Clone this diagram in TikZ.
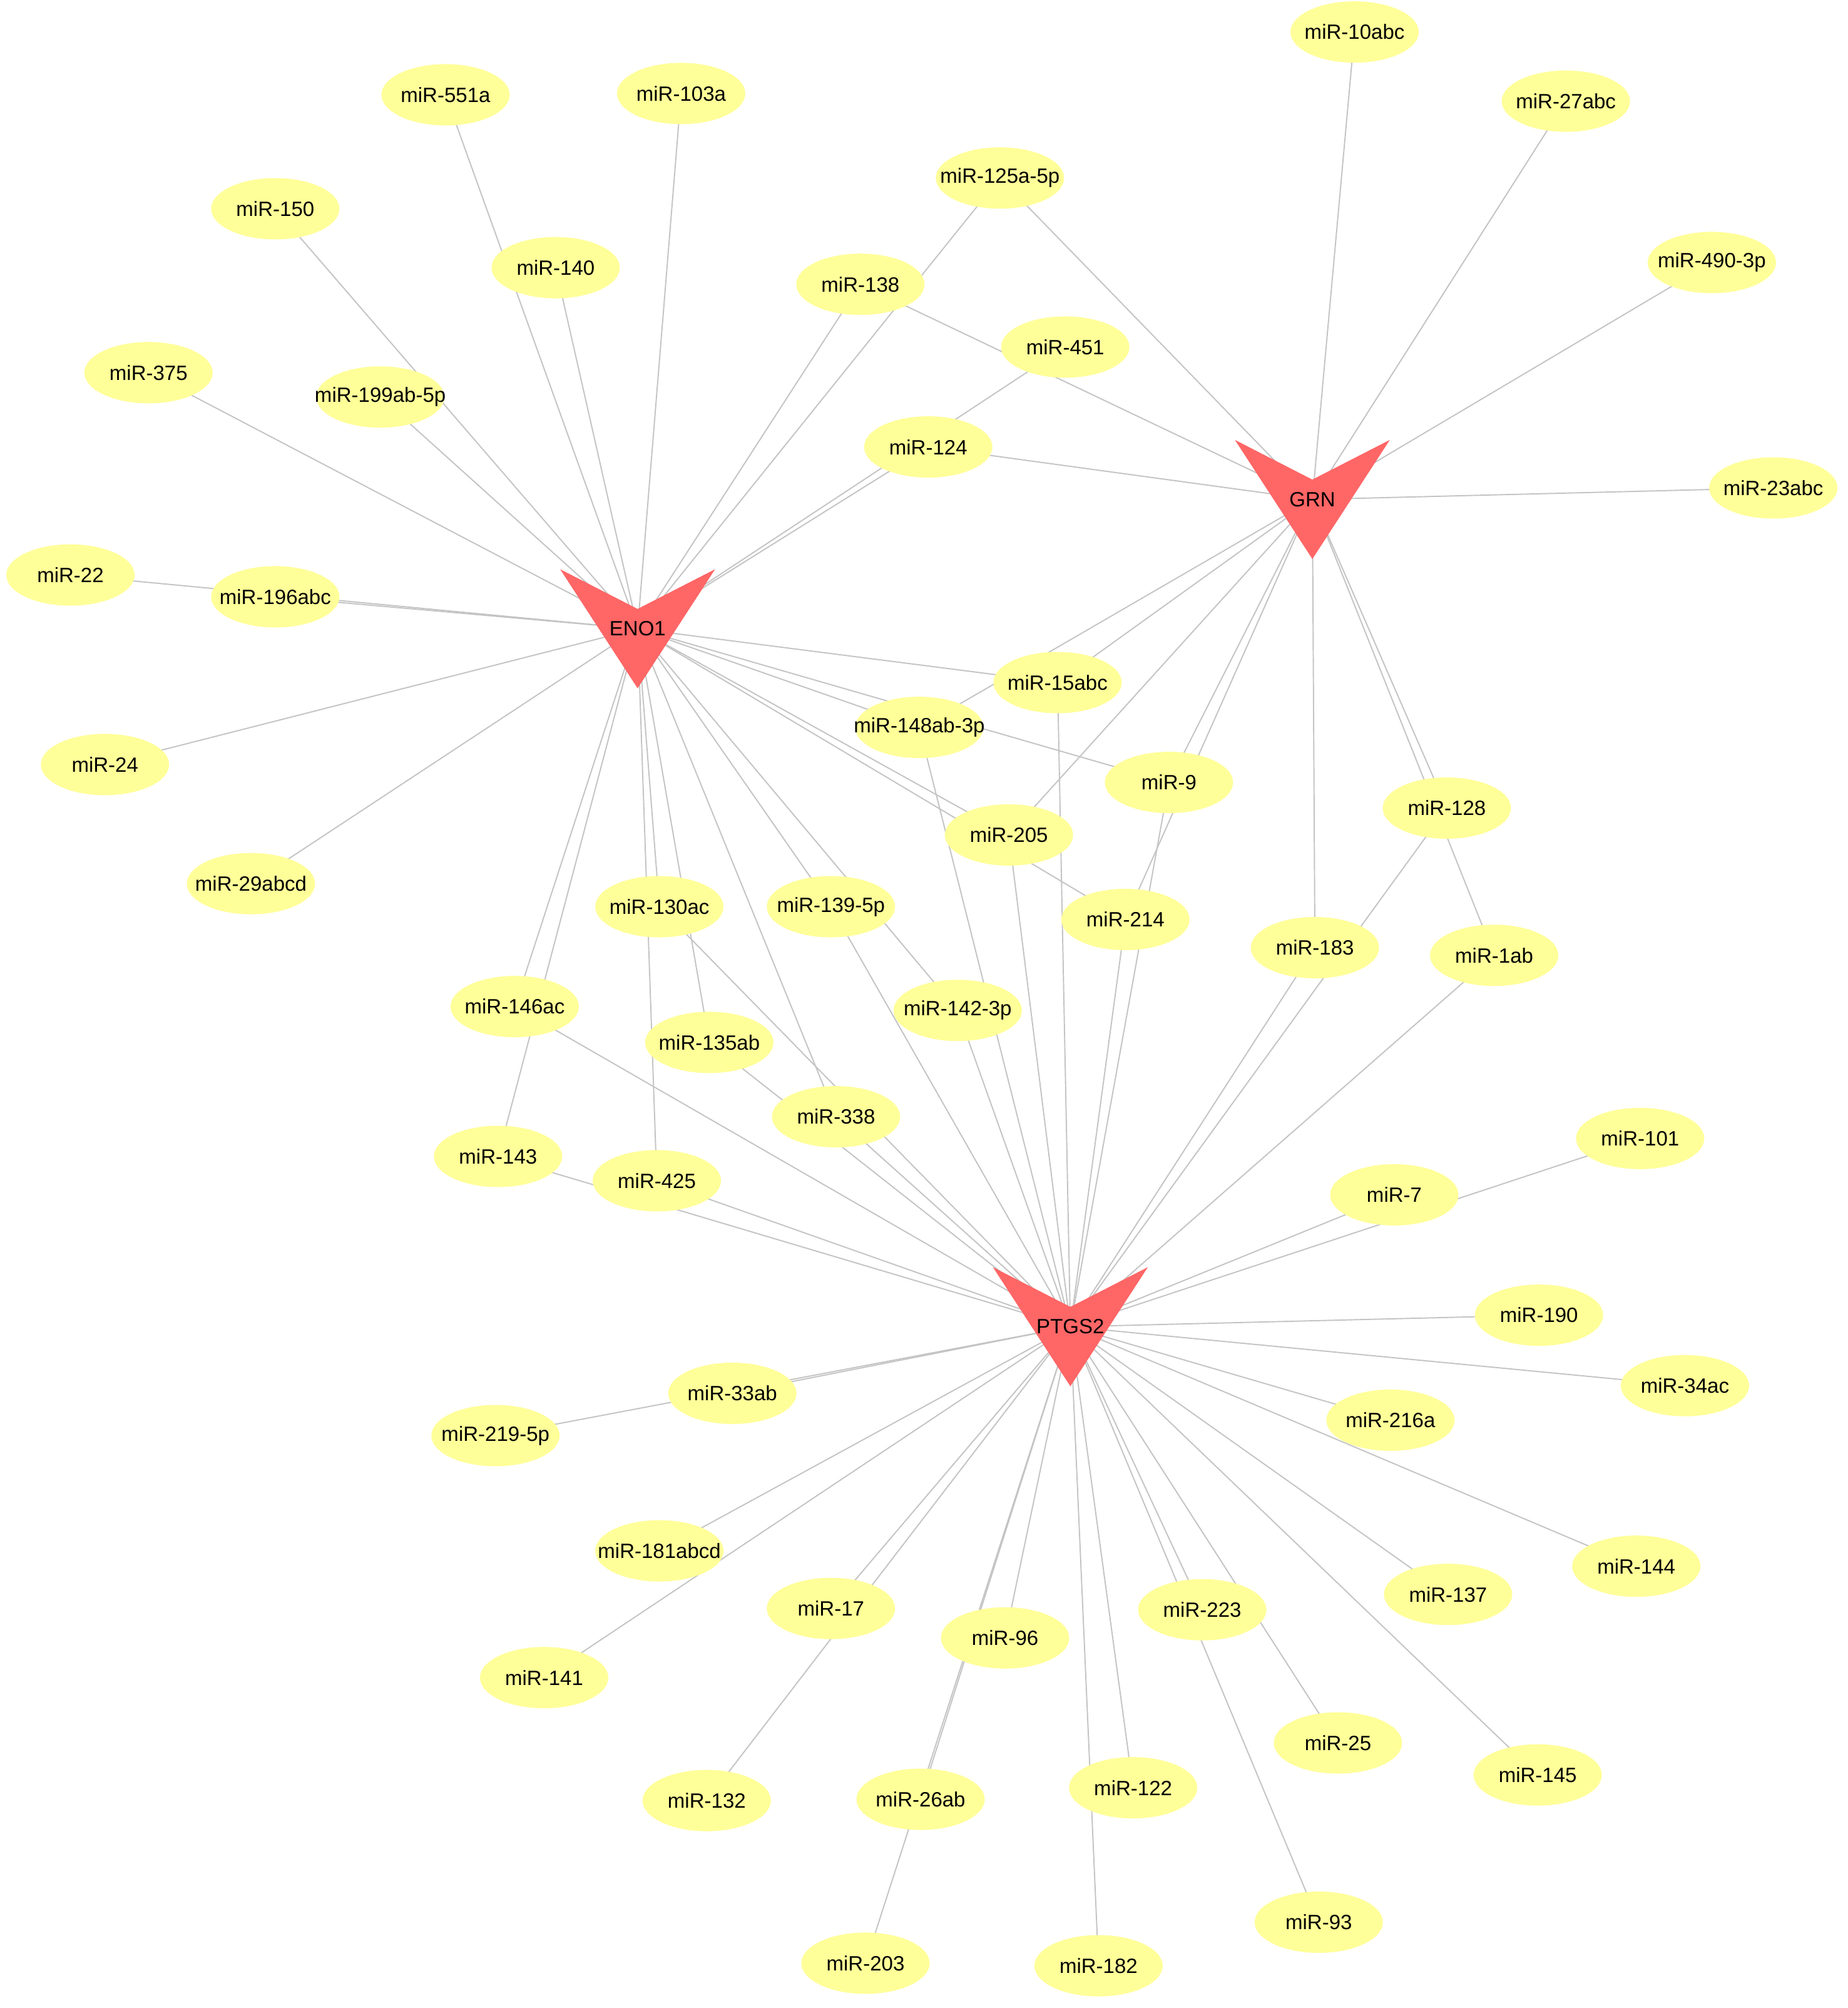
\documentclass[tikz,border=0pt]{standalone}
\usepackage{fontspec}
\setmainfont{Liberation Sans}
\usetikzlibrary{shapes.geometric}
\pgfdeclarelayer{background}
\pgfdeclarelayer{bottom}
\pgfsetlayers{bottom,background,main}
\definecolor{mirfill}{HTML}{FFFF99}
\definecolor{hubfill}{HTML}{FF6666}
\definecolor{edgecol}{HTML}{C4C4C4}
\newcommand\hubshape[1]{\fill[hubfill] (#1.center) ++(-60.5,-46.5) -- ++(60.5,31) -- ++(60.5,-31) -- ++(-60.5,93) -- cycle;}
\newcommand\lbl[1]{\makebox[0pt]{#1}}
\begin{document}
\begin{tikzpicture}[x=0.020465cm,y=-0.020465cm,
  mir/.style={ellipse,fill=mirfill,minimum width=2.05cm,minimum height=0.98cm,inner sep=0pt,font=\fontsize{9.4pt}{11pt}\selectfont},
  hub/.style={inner sep=0pt,font=\fontsize{9.4pt}{11pt}\selectfont},
  edge/.style={draw=edgecol,line width=0.55pt}]
\begin{pgfonlayer}{bottom}
\fill[white] (0,0) rectangle (1443,1568);
\end{pgfonlayer}
\useasboundingbox (0,0) rectangle (1443,1568);
% hubs
\node[hub] (ENO1) at (498,491) {ENO1};
\node[hub] (GRN) at (1025,390) {GRN};
\node[hub] (PTGS2) at (836,1036) {PTGS2};
% miRNAs
\node[mir] (n10abc) at (1058,25) {\lbl{miR-10abc}};
\node[mir] (n27abc) at (1223,79) {\lbl{miR-27abc}};
\node[mir] (n490) at (1337,205) {\lbl{miR-490-3p}};
\node[mir] (n23abc) at (1385,381) {\lbl{miR-23abc}};
\node[mir] (n551a) at (348,74) {\lbl{miR-551a}};
\node[mir] (n103a) at (532,73) {\lbl{miR-103a}};
\node[mir] (n125a) at (781,139) {\lbl{miR-125a-5p}};
\node[mir] (n150) at (215,163) {\lbl{miR-150}};
\node[mir] (n140) at (434,209) {\lbl{miR-140}};
\node[mir] (n138) at (672,222) {\lbl{miR-138}};
\node[mir] (n451) at (832,271) {\lbl{miR-451}};
\node[mir] (n375) at (116,291) {\lbl{miR-375}};
\node[mir] (n199) at (297,310) {\lbl{miR-199ab-5p}};
\node[mir] (n124) at (725,349) {\lbl{miR-124}};
\node[mir] (n22) at (55,449) {\lbl{miR-22}};
\node[mir] (n196) at (215,466) {\lbl{miR-196abc}};
\node[mir] (n15) at (826,533) {\lbl{miR-15abc}};
\node[mir] (n148) at (718,568) {\lbl{miR-148ab-3p}};
\node[mir] (n9) at (913,611) {\lbl{miR-9}};
\node[mir] (n24) at (82,597) {\lbl{miR-24}};
\node[mir] (n128) at (1130,631) {\lbl{miR-128}};
\node[mir] (n205) at (788,652) {\lbl{miR-205}};
\node[mir] (n29) at (196,690) {\lbl{miR-29abcd}};
\node[mir] (n130) at (515,708) {\lbl{miR-130ac}};
\node[mir] (n139) at (649,708) {\lbl{miR-139-5p}};
\node[mir] (n214) at (879,718) {\lbl{miR-214}};
\node[mir] (n183) at (1027,740) {\lbl{miR-183}};
\node[mir] (n1ab) at (1167,746) {\lbl{miR-1ab}};
\node[mir] (n146) at (402,786) {\lbl{miR-146ac}};
\node[mir] (n142) at (748,789) {\lbl{miR-142-3p}};
\node[mir] (n135) at (554,814) {\lbl{miR-135ab}};
\node[mir] (n338) at (653,872) {\lbl{miR-338}};
\node[mir] (n143) at (389,903) {\lbl{miR-143}};
\node[mir] (n425) at (513,922) {\lbl{miR-425}};
\node[mir] (n101) at (1281,889) {\lbl{miR-101}};
\node[mir] (n7) at (1089,933) {\lbl{miR-7}};
\node[mir] (n190) at (1202,1027) {\lbl{miR-190}};
\node[mir] (n34) at (1316,1082) {\lbl{miR-34ac}};
\node[mir] (n33) at (572,1088) {\lbl{miR-33ab}};
\node[mir] (n216) at (1086,1109) {\lbl{miR-216a}};
\node[mir] (n219) at (387,1121) {\lbl{miR-219-5p}};
\node[mir] (n181) at (515,1211) {\lbl{miR-181abcd}};
\node[mir] (n144) at (1278,1223) {\lbl{miR-144}};
\node[mir] (n137) at (1131,1245) {\lbl{miR-137}};
\node[mir] (n17) at (649,1256) {\lbl{miR-17}};
\node[mir] (n223) at (939,1257) {\lbl{miR-223}};
\node[mir] (n96) at (785,1279) {\lbl{miR-96}};
\node[mir] (n141) at (425,1310) {\lbl{miR-141}};
\node[mir] (n25) at (1045,1361) {\lbl{miR-25}};
\node[mir] (n145) at (1201,1386) {\lbl{miR-145}};
\node[mir] (n132) at (552,1406) {\lbl{miR-132}};
\node[mir] (n26) at (719,1405) {\lbl{miR-26ab}};
\node[mir] (n122) at (885,1396) {\lbl{miR-122}};
\node[mir] (n93) at (1030,1501) {\lbl{miR-93}};
\node[mir] (n203) at (676,1533) {\lbl{miR-203}};
\node[mir] (n182) at (858,1535) {\lbl{miR-182}};
\begin{pgfonlayer}{background}
\foreach \m in {n551a,n140,n103a,n150,n199,n375,n22,n196,n24,n29,n138,n125a,n124,n451,n15,n148,n9,n205,n214,n139,n142,n130,n135,n338,n425,n146,n143}
  \draw[edge] (ENO1.center) -- (\m.center);
\foreach \m in {n10abc,n27abc,n490,n23abc,n125a,n138,n124,n15,n148,n205,n9,n214,n183,n128,n1ab}
  \draw[edge] (GRN.center) -- (\m.center);
\foreach \m in {n101,n7,n190,n34,n216,n144,n137,n145,n25,n223,n93,n122,n182,n96,n26,n203,n17,n132,n181,n141,n33,n219,n425,n143,n146,n338,n135,n130,n139,n142,n148,n205,n15,n214,n9,n183,n128,n1ab}
  \draw[edge] (PTGS2.center) -- (\m.center);
\hubshape{ENO1}
\hubshape{GRN}
\hubshape{PTGS2}
\end{pgfonlayer}
\end{tikzpicture}
\end{document}
